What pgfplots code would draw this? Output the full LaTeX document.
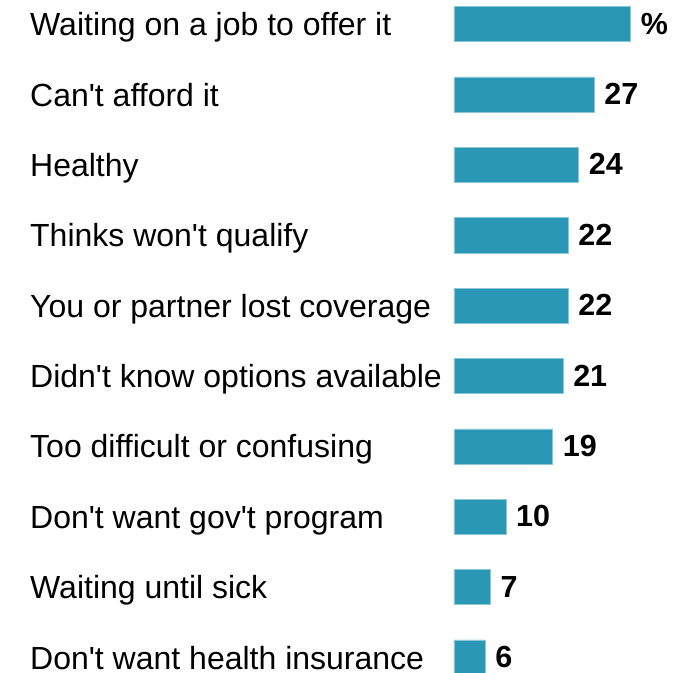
\documentclass[border=0pt]{standalone}
\usepackage{pgfplots}
\pgfplotsset{compat=1.18}
\usepackage{fontspec}
\setmainfont{Liberation Sans}
\definecolor{barc}{RGB}{42,152,181}
\newcommand\q{\textquotesingle}
\begin{document}
\begin{tikzpicture}
\begin{axis}[
 at={(0pt,0pt)}, anchor=south west,
 scale only axis, width=239pt, height=672pt,
 xbar, bar width=0.5, bar shift=0pt,
 xmin=0, xmax=46.05, ymin=-0.206, ymax=9.344,
 axis line style={draw=none}, xtick=\empty,
 ytick={0,...,9},
 yticklabels={Don\q t want health insurance, Waiting until sick, Don\q t want gov\q t program, Too difficult or confusing, Didn\q t know options available, You or partner lost coverage, Thinks won\q t qualify, Healthy, Can\q t afford it, Waiting on a job to offer it},
 major tick length=0pt,
 yticklabel style={anchor=base west, inner sep=0pt, xshift=-424pt, yshift=-11.5pt, font=\fontsize{32}{36}\selectfont},
 point meta=explicit symbolic,
 nodes near coords,
 nodes near coords style={anchor=base west, inner sep=0pt, xshift=10pt, yshift=-10pt, font=\fontsize{30.5}{36}\selectfont\bfseries, text=black},
]
\addplot[fill=barc, draw=barc!55!white, line width=0.6pt] coordinates {
 (6,0) [6] (7,1) [7] (10,2) [10] (19,3) [19] (21,4) [21] (22,5) [22] (22,6) [22] (24,7) [24] (27,8) [27] (34,9) [\%]
};
\end{axis}
\pgfresetboundingbox
\path (-454pt,0pt) rectangle (239pt,672pt);
\end{tikzpicture}
\end{document}
